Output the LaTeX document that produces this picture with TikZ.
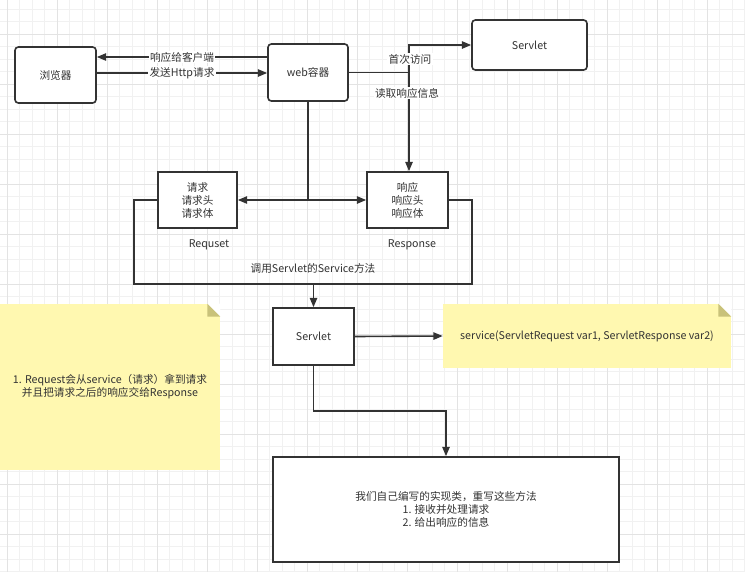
\documentclass[tikz,border=0pt]{standalone}
\usepackage{fontspec}
\setmainfont{Noto Sans CJK SC}
\usetikzlibrary{arrows.meta,calc}
\definecolor{lineGray}{HTML}{333333}
\definecolor{noteYellow}{HTML}{FFF8B0}
\definecolor{noteFold}{HTML}{C9C27A}
\definecolor{gridMinor}{HTML}{F1F1F1}
\definecolor{gridMajor}{HTML}{E3E3E3}
\begin{document}
\begin{tikzpicture}[x=0.75pt, y=-0.75pt,
font=\fontsize{8}{9.75}\selectfont, text=lineGray,
rectRound/.style={rectangle, draw=lineGray, line width=1.2pt, fill=white, rounded corners=2.5pt, align=center},
rectPlain/.style={rectangle, draw=lineGray, line width=1.2pt, fill=white, align=center},
rectNote/.style={rectangle, fill=noteYellow, align=center},
rectVoid/.style={rectangle, inner sep=1pt, align=center},
lbl/.style={rectangle, fill=white, inner sep=1pt},
conn/.style={draw=lineGray, line width=1.2pt},
arr/.style={conn, -{Triangle[length=7pt, width=5.5pt]}}
]

% background and grid
\useasboundingbox (0,0) rectangle (745,572);
\fill[white] (0,0) rectangle (745,572);
\foreach \gx in {7,19.5,...,745} \draw[gridMinor, line width=0.6pt] (\gx,0) -- (\gx,572);
\foreach \gy in {9,21.5,...,572} \draw[gridMinor, line width=0.6pt] (0,\gy) -- (745,\gy);
\foreach \gx in {7,57,...,745} \draw[gridMajor, line width=0.6pt] (\gx,0) -- (\gx,572);
\foreach \gy in {34,84,...,572} \draw[gridMajor, line width=0.6pt] (0,\gy) -- (745,\gy);

% notes
\node[rectNote, minimum width=165pt, minimum height=124.5pt] (noteRequest) at (110,387) {1. Request会从service（请求）拿到请求\\并且把请求之后的响应交给Response};
\node[rectNote, minimum width=216pt, minimum height=48pt] (noteService) at (587,336) {service(ServletRequest var1, ServletResponse var2)};
\foreach \n in {noteRequest, noteService} {
  \fill[white] ($(\n.north east)+(-13,0)$) -- (\n.north east) -- ++(0,13) -- cycle;
  \fill[noteFold] ($(\n.north east)+(-13,0)$) -- ++(0,13) -- ++(13,0) -- cycle;
}

% boxes
\node[rectRound, minimum width=60.75pt, minimum height=42pt] (browser) at (55.5,75) {浏览器};
\node[rectRound, minimum width=60pt, minimum height=42.75pt] (web) at (308,72.5) {web容器};
\node[rectRound, minimum width=86.25pt, minimum height=37.5pt] (servletTop) at (529.5,45) {Servlet};
\node[rectPlain, minimum width=59.25pt, minimum height=42pt] (request) at (197.5,200) {请求\\请求头\\请求体};
\node[rectPlain, minimum width=60.75pt, minimum height=42pt] (response) at (407.5,200) {响应\\响应头\\响应体};
\node[rectPlain, minimum width=60.75pt, minimum height=42.75pt] (servletMid) at (313.5,336.5) {Servlet};
\node[rectPlain, minimum width=259.5pt, minimum height=78.75pt] (impl) at (446,509.5) {我们自己编写的实现类，重写这些方法\\1. 接收并处理请求\\2. 给出响应的信息};

\node[rectVoid] (requestName) at (209,245) {Requset};
\node[rectVoid] (responseName) at (412,245) {Response};
\node[rectVoid] (callService) at (313,268) {调用Servlet的Service方法};

% connectors
\coordinate (backY) at (0,57);
\coordinate (sendY) at (0,73);
\coordinate (fork) at (409,72.5);
\coordinate (split) at (web.south |- request.east);
\coordinate (loopBottom) at (0,284);
\coordinate (loopLeft) at (134,0);
\coordinate (loopRight) at (472,0);
\coordinate (bend) at (0,411);

\draw[arr] (web.west |- backY) -- (browser.east |- backY);
\draw[arr] (browser.east |- sendY) -- (web.west |- sendY);
\draw[conn] (web.east) -- (fork);
\draw[arr] (fork) |- (servletTop.west);
\draw[arr] (fork) -- (fork |- response.north);
\draw[conn] (web.south) -- (split);
\draw[arr] (split) -- (request.east);
\draw[arr] (split) -- (response.west);
\draw[conn] (request.west) -- (loopLeft |- request.west) -- (loopLeft |- loopBottom) -- (loopRight |- loopBottom) -- (loopRight |- response.east) -- (response.east);
\draw[arr] (servletMid.north |- loopBottom) -- (servletMid.north);
\draw[arr] (servletMid.east) -- (noteService.west);
\draw[arr] (servletMid.south) -- (servletMid.south |- bend) -- (impl.north |- bend) -- (impl.north);

% connector labels
\node[lbl] (lblBack) at (182,57) {响应给客户端};
\node[lbl] (lblSend) at (182,73) {发送Http请求};
\node[lbl] (lblFirst) at (410,59) {首次访问};
\node[lbl] (lblRead) at (407,93) {读取响应信息};

\end{tikzpicture}
\end{document}
